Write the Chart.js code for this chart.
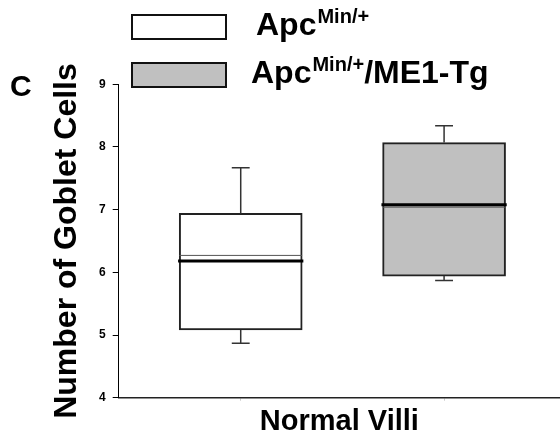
<!DOCTYPE html>
<html>
<head>
<meta charset="utf-8">
<script src="https://cdn.jsdelivr.net/npm/chart.js@4.4.1/dist/chart.umd.min.js"></script>
<style>
    html, body { margin: 0; padding: 0; background: #fff; }
    #wrap { position: relative; width: 560px; height: 438px; font-family: "Liberation Sans", Arial, sans-serif; font-weight: bold; color: #000; }
    #goblet { position: absolute; left: 0; top: 0; }
    .panel-label { position: absolute; left: 10px; top: 71px; font-size: 30px; line-height: 30px; }
    .legend-swatch { position: absolute; box-sizing: border-box; width: 96px; height: 26px; border: 2.5px solid #111; }
    .legend-text { position: absolute; white-space: nowrap; font-size: 32px; line-height: 32px; }
    .legend-text sup { font-size: 20px; line-height: 0; vertical-align: baseline; position: relative; top: -12px; margin-left: 1px; }
</style>
</head>
<body>
<div id="wrap">
    <canvas id="goblet" width="560" height="438"></canvas>
    <div class="panel-label">C</div>
    <div id="legend"></div>
</div>
<script>
// groups (legend)
const groupNames = ['Apc', 'Apc'];
const groupSups = ['Min/+', 'Min/+'];
const groupTails = ['', '/ME1-Tg'];
const groupColors = ['#ffffff', '#c0c0c0'];

// box plot values, Normal Villi
const positions = [1, 2];
const q1 = [5.08, 5.94];
const q3 = [6.94, 8.07];
const means = [6.18, 7.08];
const medians = [6.27, 7.04];
const whiskerLow = [4.87, 5.87];
const whiskerHigh = [7.67, 8.34];

const yTicks = [4, 5, 6, 7, 8, 9];
const xTicks = [1, 2];

document.addEventListener('DOMContentLoaded', () => {
    // legend
    const legend = document.getElementById('legend');
    const swatchTops = [14, 62];
    const textLefts = [256, 251];
    const textTops = [8, 56];
    groupNames.forEach((name, i) => {
        const sw = document.createElement('div');
        sw.className = 'legend-swatch';
        sw.style.left = '131px';
        sw.style.top = swatchTops[i] + 'px';
        sw.style.background = groupColors[i];
        legend.appendChild(sw);

        const tx = document.createElement('div');
        tx.className = 'legend-text';
        tx.style.left = textLefts[i] + 'px';
        tx.style.top = textTops[i] + 'px';
        tx.innerHTML = `${name}<sup>${groupSups[i]}</sup>${groupTails[i]}`;
        legend.appendChild(tx);
    });

    // whiskers, caps and center lines
    const boxExtras = {
        id: 'boxExtras',
        afterDatasetsDraw(chart) {
            const { ctx, scales: { x, y } } = chart;
            const capHalf = 0.044;
            const boxHalf = 0.302;
            ctx.save();
            positions.forEach((p, i) => {
                const cx = x.getPixelForValue(p);
                ctx.strokeStyle = '#333';
                ctx.lineWidth = 1.5;
                ctx.beginPath();
                ctx.moveTo(cx, y.getPixelForValue(q3[i]));
                ctx.lineTo(cx, y.getPixelForValue(whiskerHigh[i]));
                ctx.moveTo(cx, y.getPixelForValue(q1[i]));
                ctx.lineTo(cx, y.getPixelForValue(whiskerLow[i]));
                [whiskerHigh[i], whiskerLow[i]].forEach(v => {
                    const py = y.getPixelForValue(v);
                    ctx.moveTo(x.getPixelForValue(p - capHalf), py);
                    ctx.lineTo(x.getPixelForValue(p + capHalf), py);
                });
                ctx.stroke();

                // thin line
                ctx.strokeStyle = '#555';
                ctx.lineWidth = 1;
                ctx.beginPath();
                const my = y.getPixelForValue(medians[i]);
                ctx.moveTo(x.getPixelForValue(p - boxHalf), my);
                ctx.lineTo(x.getPixelForValue(p + boxHalf), my);
                ctx.stroke();

                // thick line
                ctx.strokeStyle = '#000';
                ctx.lineWidth = 3;
                ctx.beginPath();
                const ty = y.getPixelForValue(means[i]);
                ctx.moveTo(x.getPixelForValue(p - boxHalf - 0.006), ty);
                ctx.lineTo(x.getPixelForValue(p + boxHalf + 0.006), ty);
                ctx.stroke();
            });
            ctx.restore();
        }
    };

    const ctx = document.getElementById('goblet').getContext('2d');
    new Chart(ctx, {
        type: 'bar',
        data: {
            datasets: [{
                data: positions.map((p, i) => ({ x: p, y: [q1[i], q3[i]] })),
                backgroundColor: groupColors,
                borderColor: '#222',
                borderWidth: 2,
                borderSkipped: false,
                barThickness: 123
            }]
        },
        options: {
            responsive: false,
            animation: false,
            events: [],
            layout: { padding: { left: 0, top: 84.3, right: 0, bottom: 0 } },
            plugins: {
                legend: { display: false },
                tooltip: { enabled: false }
            },
            scales: {
                x: {
                    type: 'linear',
                    min: 0.4,
                    max: 2.57,
                    offset: false,
                    afterBuildTicks: scale => { scale.ticks = xTicks.map(v => ({ value: v })); },
                    afterFit: scale => { scale.height = 40.3; },
                    ticks: { display: false },
                    grid: { offset: false, drawOnChartArea: false, color: '#ccc', tickLength: 3 },
                    border: { color: '#222', width: 1.5 },
                    title: {
                        display: true,
                        text: 'Normal Villi',
                        color: '#000',
                        font: { family: 'Liberation Sans, Arial, sans-serif', size: 29, weight: 'bold', lineHeight: 1.1 },
                        padding: 0
                    }
                },
                y: {
                    min: 4,
                    max: 9,
                    afterBuildTicks: scale => { scale.ticks = yTicks.map(v => ({ value: v })); },
                    afterFit: scale => { scale.width = 118.7; },
                    ticks: {
                        color: '#000',
                        padding: 7,
                        font: { family: 'Liberation Sans, Arial, sans-serif', size: 12, weight: 'bold' }
                    },
                    grid: { drawOnChartArea: false, color: '#000', tickLength: 6 },
                    border: { color: '#000', width: 1 },
                    title: {
                        display: true,
                        text: 'Number of Goblet Cells',
                        color: '#000',
                        font: { family: 'Liberation Sans, Arial, sans-serif', size: 32, weight: 'bold', lineHeight: 1.2 },
                        padding: { top: 48, bottom: 0 }
                    }
                }
            }
        },
        plugins: [boxExtras]
    });
});
</script>
</body>
</html>
